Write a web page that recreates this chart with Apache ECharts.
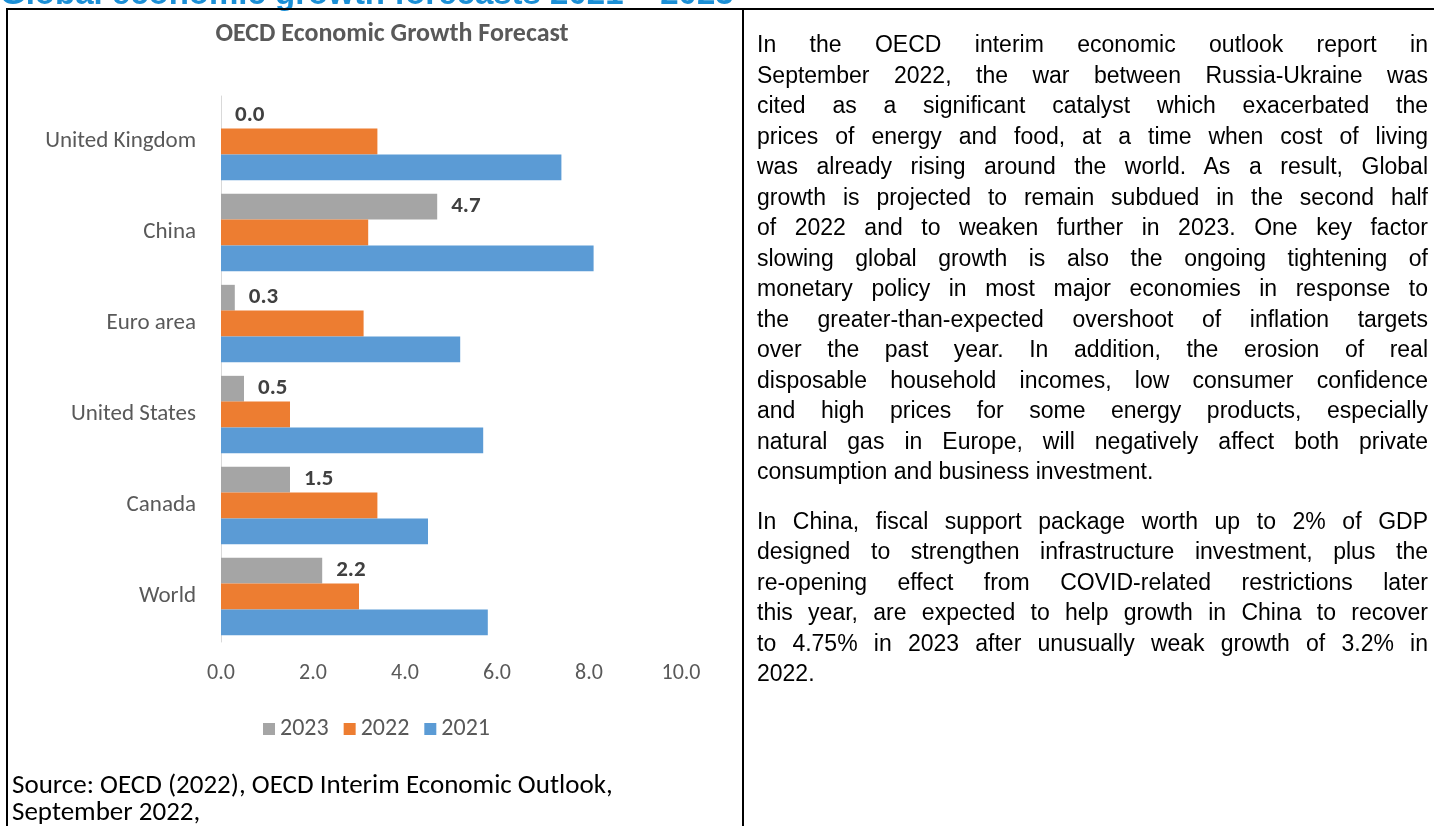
<!DOCTYPE html>
<html>
<head>
<meta charset="utf-8">
<script src="https://cdn.jsdelivr.net/npm/echarts@6/dist/echarts.min.js"></script>
<style>
  html, body { margin: 0; padding: 0; background: #fff; width: 1439px; height: 826px; overflow: hidden; }
  #chart { position: absolute; left: 0; top: 0; width: 1439px; height: 826px; }
  .ov { position: absolute; pointer-events: none; }
  .line { position: absolute; background: #000; }
  #heading { left: 0; top: -26px; font-family: "Liberation Sans", Arial, sans-serif; font-weight: bold; font-size: 33px; color: #1b8fd6; white-space: nowrap; }
  #source { left: 12px; top: 770px; font-family: Carlito, Lato, sans-serif; font-size: 27px; line-height: 27px; color: #000; }
  #body { left: 757px; top: 29px; width: 671px; font-family: "Liberation Sans", Arial, sans-serif; font-size: 23px; line-height: 30.5px; color: #000; }
  #body .l { white-space: nowrap; text-align: justify; text-align-last: justify; }
  #body .e { white-space: nowrap; text-align: left; }
  #body .gap { height: 19px; }
</style>
</head>
<body>
<div id="chart"></div>
<div class="ov" id="heading">Global economic growth forecasts 2021 – 2023</div>
<div class="ov line" style="left:6px; top:8px; width:1428px; height:2px;"></div>
<div class="ov line" style="left:6px; top:8px; width:2px; height:818px;"></div>
<div class="ov line" style="left:742px; top:8px; width:2px; height:818px;"></div>
<div class="ov" id="source">Source: OECD (2022), OECD Interim Economic Outlook,<br>September 2022,</div>
<div class="ov" id="body"></div>
<script>
// ---- data ----
var categories = ['World', 'Canada', 'United States', 'Euro area', 'China', 'United Kingdom'];
var seriesNames = ['2023', '2022', '2021'];
var values2023 = [2.2, 1.5, 0.5, 0.3, 4.7, 0.0];
var values2022 = [3.0, 3.4, 1.5, 3.1, 3.2, 3.4];
var values2021 = [5.8, 4.5, 5.7, 5.2, 8.1, 7.4];
var xTicks = [0, 2, 4, 6, 8, 10];
var chartTitle = 'OECD Economic Growth Forecast';

var para1 = [
  'In the OECD interim economic outlook report in',
  'September 2022, the war between Russia-Ukraine was',
  'cited as a significant catalyst which exacerbated the',
  'prices of energy and food, at a time when cost of living',
  'was already rising around the world. As a result, Global',
  'growth is projected to remain subdued in the second half',
  'of 2022 and to weaken further in 2023. One key factor',
  'slowing global growth is also the ongoing tightening of',
  'monetary policy in most major economies in response to',
  'the greater-than-expected overshoot of inflation targets',
  'over the past year. In addition, the erosion of real',
  'disposable household incomes, low consumer confidence',
  'and high prices for some energy products, especially',
  'natural gas in Europe, will negatively affect both private',
  'consumption and business investment.'
];
var para2 = [
  'In China, fiscal support package worth up to 2% of GDP',
  'designed to strengthen infrastructure investment, plus the',
  're-opening effect from COVID-related restrictions later',
  'this year, are expected to help growth in China to recover',
  'to 4.75% in 2023 after unusually weak growth of 3.2% in',
  '2022.'
];

// ---- body text ----
(function () {
  var body = document.getElementById('body');
  function addPara(lines) {
    lines.forEach(function (t, i) {
      var d = document.createElement('div');
      d.className = (i === lines.length - 1) ? 'e' : 'l';
      d.textContent = t;
      body.appendChild(d);
    });
  }
  addPara(para1);
  var g = document.createElement('div'); g.className = 'gap'; body.appendChild(g);
  addPara(para2);
})();

// ---- chart ----
var chart = echarts.init(document.getElementById('chart'), null, { renderer: 'canvas' });
var FONT = 'Carlito, Lato, sans-serif';
var colors = { '2023': '#A5A5A5', '2022': '#ED7D31', '2021': '#5B9BD5' };
var dataBy = { '2023': values2023, '2022': values2022, '2021': values2021 };

var series = seriesNames.map(function (name) {
  var s = {
    name: name,
    type: 'bar',
    data: dataBy[name],
    itemStyle: { color: colors[name] },
    barGap: '0%',
    barCategoryGap: '15%',
    emphasis: { disabled: true }
  };
  if (name === '2023') {
    s.label = {
      show: true, position: 'right', distance: 14,
      fontFamily: FONT, fontWeight: 'bold', fontSize: 23, color: '#404040',
      formatter: function (p) { return Number(p.value).toFixed(1); }
    };
  }
  return s;
});

chart.setOption({
  animation: false,
  backgroundColor: 'transparent',
  textStyle: { fontFamily: FONT },
  title: {
    text: chartTitle, left: 387, top: 16, textAlign: 'center',
    textStyle: { fontFamily: FONT, fontWeight: 'bold', fontSize: 26, color: '#595959' }
  },
  legend: {
    data: seriesNames, left: 258, top: 712,
    icon: 'rect', itemWidth: 12, itemHeight: 12, itemGap: 15,
    textStyle: { fontFamily: FONT, fontSize: 24, color: '#595959' }
  },
  grid: { left: 221, top: 96, width: 460, height: 546, containLabel: false },
  xAxis: {
    type: 'value', min: xTicks[0], max: xTicks[xTicks.length - 1], interval: 2,
    axisLine: { show: false }, axisTick: { show: false }, splitLine: { show: false },
    axisLabel: { fontFamily: FONT, fontSize: 22, color: '#595959', margin: 20,
      formatter: function (v) { return v.toFixed(1); } }
  },
  yAxis: {
    type: 'category', data: categories,
    axisLine: { show: true, lineStyle: { color: '#D9D9D9', width: 1 } },
    axisTick: { show: false },
    axisLabel: { fontFamily: FONT, fontSize: 23, color: '#595959', margin: 25 }
  },
  series: series
});
</script>
</body>
</html>
